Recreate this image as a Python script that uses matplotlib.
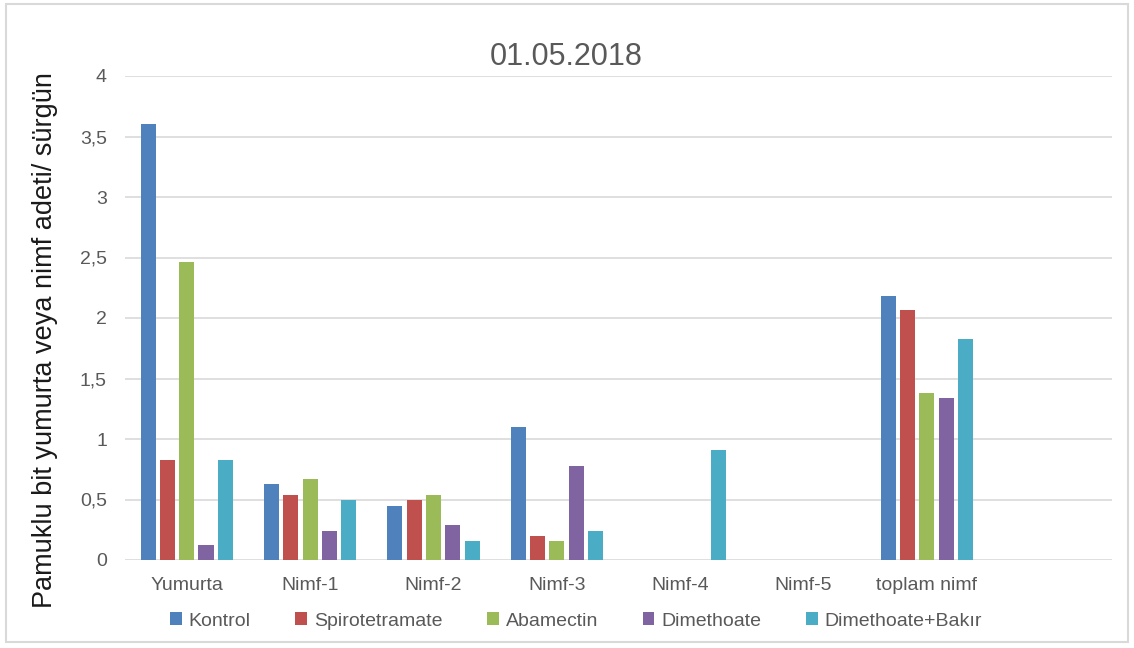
import matplotlib
matplotlib.use("Agg")
import matplotlib.pyplot as plt
from matplotlib.patches import Patch, Rectangle
import numpy as np

categories = ["Yumurta", "Nimf-1", "Nimf-2", "Nimf-3", "Nimf-4", "Nimf-5", "toplam nimf"]
series_names = ["Kontrol", "Spirotetramate", "Abamectin", "Dimethoate", "Dimethoate+Bakır"]
kontrol = [3.60, 0.625, 0.45, 1.10, 0, 0, 2.18]
spirotetramate = [0.83, 0.54, 0.50, 0.20, 0, 0, 2.07]
abamectin = [2.46, 0.67, 0.54, 0.16, 0, 0, 1.38]
dimethoate = [0.12, 0.24, 0.29, 0.78, 0, 0, 1.34]
dimethoate_bakir = [0.83, 0.50, 0.16, 0.24, 0.91, 0, 1.83]
y_ticks = [0, 0.5, 1, 1.5, 2, 2.5, 3, 3.5, 4]
y_tick_labels = ["0", "0,5", "1", "1,5", "2", "2,5", "3", "3,5", "4"]
title = "01.05.2018"
y_label = "Pamuklu bit yumurta veya nimf adeti/ sürgün"
colors = ["#4F81BD", "#C0504D", "#9BBB59", "#8064A2", "#4BACC6"]

series = [kontrol, spirotetramate, abamectin, dimethoate, dimethoate_bakir]

plt.rcParams['font.family'] = ['Liberation Sans', 'DejaVu Sans']

W, H = 1134, 648
fig = plt.figure(figsize=(W / 100, H / 100), dpi=100)
fig.patch.set_facecolor("white")

# outer frame
fig.patches.append(Rectangle((6 / W, 6 / H), (W - 12) / W, (H - 10) / H,
                             transform=fig.transFigure, fill=False,
                             edgecolor="#d9d9d9", linewidth=1.5))

ax = fig.add_axes([125 / W, 1 - 560 / H, (1112 - 125) / W, (560 - 76) / H])

x = np.arange(len(categories))
slot = 0.1565
bw = 0.122
for i, (vals, c, name) in enumerate(zip(series, colors, series_names)):
    ax.bar(x + (i - 2) * slot, vals, width=bw, color=c, label=name, zorder=3)

ax.set_xlim(-0.5, 7.5)
ax.set_ylim(0, 4)
ax.set_yticks(y_ticks)
ax.set_yticklabels(y_tick_labels)
ax.set_xticks(x)
ax.set_xticklabels(categories)
ax.tick_params(axis='both', length=0, labelsize=14, labelcolor="#595959")
ax.tick_params(axis='y', pad=13)
ax.tick_params(axis='x', pad=12)
for s in ax.spines.values():
    s.set_visible(False)
ax.grid(axis='y', color="#d9d9d9", linewidth=1.2, zorder=0)
ax.set_axisbelow(True)

fig.text(566 / W, 1 - 57 / H, title, ha='center', va='center',
         fontsize=22, color="#595959")
fig.text(45 / W, 1 - 340 / H, y_label, rotation=90, ha='center', va='center',
         fontsize=19.5, color="#1a1a1a")

handles = [Patch(facecolor=c, edgecolor='none') for c in colors]
fig.legend(handles, series_names, loc='center', bbox_to_anchor=(576 / W, 1 - 621 / H),
           ncol=5, frameon=False, fontsize=14, labelcolor="#595959",
           handlelength=0.6, handleheight=0.6, handletextpad=0.35,
           columnspacing=2.3, borderpad=0)

fig.savefig("out.png", dpi=100, facecolor="white")
